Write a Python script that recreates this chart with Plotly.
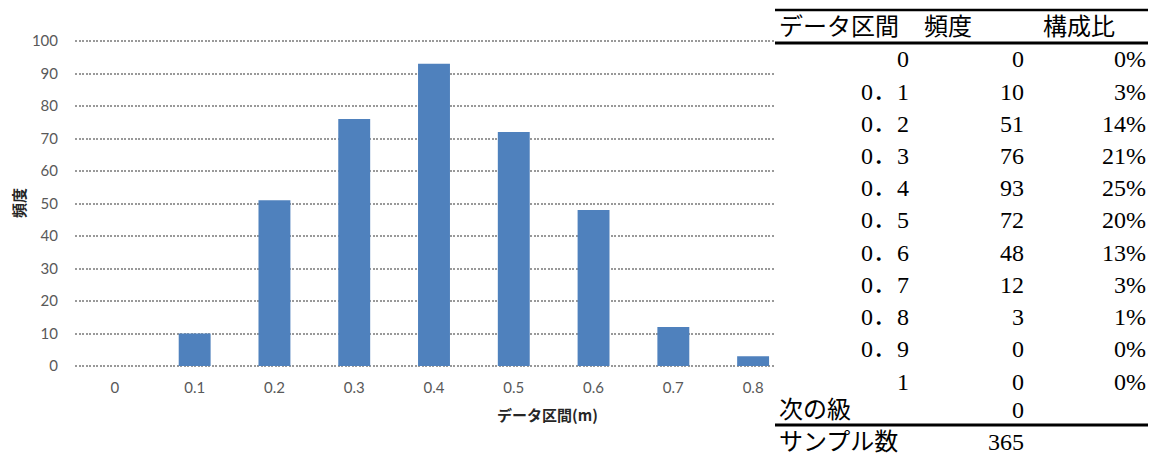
import plotly.graph_objects as go

# Frequency distribution (class upper bound in metres)
bins = ["0", "0.1", "0.2", "0.3", "0.4", "0.5", "0.6", "0.7", "0.8", "0.9", "1"]
freq = [0, 10, 51, 76, 93, 72, 48, 12, 3, 0, 0]
next_class = 0
chart_bins = bins[:9]
chart_freq = freq[:9]

y_ticks = list(range(0, 101, 10))

W, H = 1155, 454


def px(x):
    return x / W


def py(y):
    return 1 - y / H


total = sum(freq) + next_class

fig = go.Figure()
fig.add_trace(go.Bar(
    x=chart_bins, y=chart_freq,
    marker=dict(color="#4f81bd", line=dict(color="#4f81bd", width=0)),
    width=0.4,
    hoverinfo="skip",
))

tick_font = dict(family="Lato, Open Sans, Noto Sans CJK JP", size=15, color="#595959")

fig.update_layout(
    width=W, height=H,
    margin=dict(l=0, r=0, t=0, b=0),
    paper_bgcolor="white", plot_bgcolor="white",
    showlegend=False,
    xaxis=dict(
        domain=[px(75), px(793)],
        type="category", automargin=False,
        showgrid=False, zeroline=False, showline=False,
        ticks="", ticklabelstandoff=8,
        tickfont=tick_font,
    ),
    yaxis=dict(
        # range padded by one unit so the 0 and 100 grid lines are drawn
        domain=[py(369.25), py(37.75)],
        range=[-1, 101], automargin=False,
        tickvals=y_ticks,
        showgrid=True, gridcolor="#999999", griddash="2px,1.5px", gridwidth=2,
        zeroline=False, showline=False, ticks="",
        ticklabelstandoff=16,
        tickfont=tick_font,
    ),
)

shapes = []
annotations = []

# axis titles
annotations.append(dict(
    text="<b>データ区間(m)</b>", x=px(547), y=py(414), xref="paper", yref="paper",
    xanchor="center", yanchor="middle",
    showarrow=False, font=dict(family="Noto Sans CJK JP", size=15, color="#262626"),
))
annotations.append(dict(
    text="<b>頻度</b>", x=px(18), y=py(203), xref="paper", yref="paper",
    xanchor="center", yanchor="middle",
    showarrow=False, textangle=-90,
    font=dict(family="Noto Sans CJK JP", size=15, color="#262626"),
))

# frequency table on the right
shapes.append(dict(type="rect", xref="paper", yref="paper",
                   x0=px(775), x1=1, y0=0, y1=1,
                   fillcolor="white", line=dict(width=0), layer="above"))
for yline, lw in [(10, 2.5), (43, 3), (425, 3)]:
    shapes.append(dict(type="line", xref="paper", yref="paper",
                       x0=px(775), x1=px(1148), y0=py(yline), y1=py(yline),
                       line=dict(color="black", width=lw), layer="above"))

tfont = dict(family="Liberation Serif, Noto Sans CJK JP", size=24, color="black")


def cell(text, x, y, anchor):
    annotations.append(dict(text=text, x=px(x), y=py(y), xref="paper", yref="paper",
                            xanchor=anchor, yanchor="middle", showarrow=False, font=tfont))


cell("データ区間", 777, 27, "left")
cell("頻度", 922, 27, "left")
cell("構成比", 1041, 27, "left")

for i, (b, f) in enumerate(zip(bins, freq)):
    y = 59.5 + 32.2 * i
    cell(b.replace(".", "．"), 911, y, "right")
    cell(str(f), 1026, y, "right")
    cell(f"{round(100 * f / total)}%", 1148, y, "right")

cell("次の級", 777, 410, "left")
cell(str(next_class), 1026, 410, "right")
cell("サンプル数", 777, 442, "left")
cell(str(total), 1026, 442, "right")

fig.update_layout(shapes=shapes, annotations=annotations)
fig.write_html("out.html")
